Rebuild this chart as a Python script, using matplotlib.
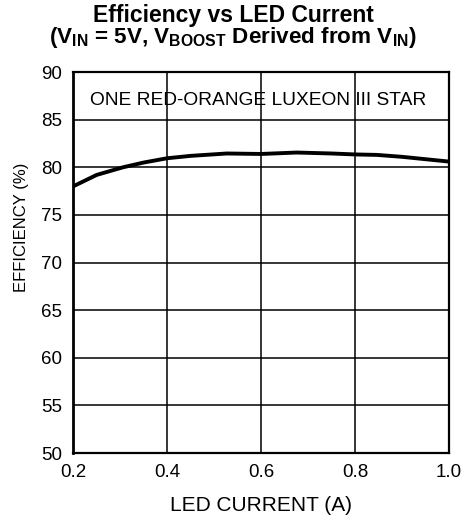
import matplotlib.pyplot as plt

plt.rcParams['font.family'] = ['Liberation Sans', 'DejaVu Sans']
plt.rcParams['mathtext.fontset'] = 'custom'
plt.rcParams['mathtext.rm'] = 'Liberation Sans:bold'
plt.rcParams['mathtext.bf'] = 'Liberation Sans:bold'
plt.rcParams['mathtext.default'] = 'bf'

# data
led_current = [0.20, 0.25, 0.306, 0.35, 0.40, 0.45, 0.527, 0.60, 0.676, 0.75, 0.80, 0.847, 0.90, 0.95, 1.00]
efficiency = [78.0, 79.2, 80.0, 80.5, 80.95, 81.2, 81.45, 81.4, 81.55, 81.45, 81.35, 81.3, 81.1, 80.85, 80.6]

xticks = [0.2, 0.4, 0.6, 0.8, 1.0]
yticks = [50, 55, 60, 65, 70, 75, 80, 85, 90]

fig = plt.figure(figsize=(4.66, 5.22), dpi=100)
ax = fig.add_axes([0.157, 0.132, 0.8065, 0.730])

ax.plot(led_current, efficiency, color='black', linewidth=2.8, solid_capstyle='butt')

ax.set_xlim(0.2, 1.0)
ax.set_ylim(50, 90)
ax.set_xticks(xticks)
ax.set_yticks(yticks)
ax.set_xticklabels(['0.2', '0.4', '0.6', '0.8', '1.0'])
ax.tick_params(length=0, labelsize=13.5, pad=8)
ax.grid(True, color='black', linewidth=1.1)
for s in ax.spines.values():
    s.set_linewidth(1.6)
ax.spines['left'].set_linewidth(2.0)

ax.set_xlabel('LED CURRENT (A)', fontsize=15, labelpad=11)
ax.set_ylabel('EFFICIENCY (%)', fontsize=12)
ax.yaxis.set_label_coords(-0.118, 0.593)

ax.text(0.593, 87.0, 'ONE RED-ORANGE LUXEON III STAR', ha='center', va='center', fontsize=13.8)

fig.text(0.5, 0.958, 'Efficiency vs LED Current', ha='center', va='baseline',
         fontsize=16.5, fontweight='bold')
fig.text(0.5, 0.9176, r'(V$_{IN}$ = 5V, V$_{BOOST}$ Derived from V$_{IN}$)', ha='center', va='baseline',
         fontsize=16.2, fontweight='bold')

fig.savefig('out.png', dpi=100)
